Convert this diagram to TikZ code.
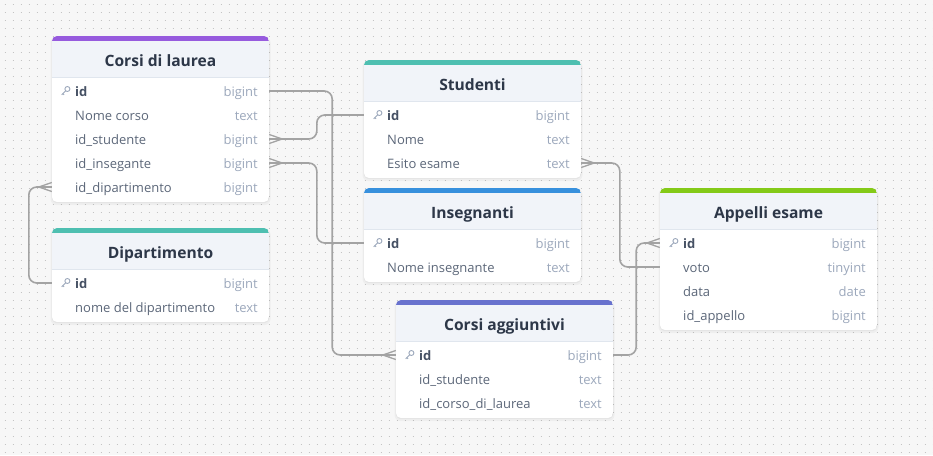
\documentclass[tikz,border=0pt]{standalone}
\usepackage{fontspec}
\setmainfont{Open Sans}
\setsansfont{Open Sans}
\usepackage{tikz}
\usetikzlibrary{positioning, calc}
\usepackage{xcolor}
\definecolor{canvas}{RGB}{247,247,247}
\definecolor{dotgray}{RGB}{196,196,196}
\definecolor{headfill}{RGB}{241,244,249}
\definecolor{sepline}{RGB}{224,230,238}
\definecolor{titleink}{RGB}{45,55,72}
\definecolor{nameink}{RGB}{92,103,121}
\definecolor{keyink}{RGB}{70,81,100}
\definecolor{typeink}{RGB}{156,168,188}
\definecolor{linkgray}{RGB}{163,163,163}
\definecolor{barpurple}{RGB}{151,91,222}
\definecolor{barteal}{RGB}{78,191,177}
\definecolor{barblue}{RGB}{55,144,221}
\definecolor{bargreen}{RGB}{132,202,24}
\definecolor{barindigo}{RGB}{104,114,206}

\tikzset{
  dotrow/.style={dotgray, line width=1pt, dash pattern=on 1pt off 7pt},
  tableshadow/.style={fill=black, opacity=0.035, rounded corners=6pt},
  rowbox/.style={minimum width=217pt, minimum height=24pt, inner sep=0pt},
  tabletitle/.style={text=titleink, inner sep=0pt,
                     font=\bfseries\fontsize{15.6}{18}\selectfont},
  field/.style={text=nameink, inner sep=0pt,
                font=\fontsize{13}{15}\selectfont},
  keyfield/.style={field, text=keyink,
                   font=\bfseries\fontsize{13}{15}\selectfont},
  fieldtype/.style={field, text=typeink},
  keyline/.style={draw=typeink, line width=0.9pt},
  link/.style={draw=linkgray, line width=1.6pt, rounded corners=8pt},
  crowline/.style={draw=linkgray, line width=1.3pt},
  crowright/.pic={\draw[crowline] (0,-4.5) -- (13,0) -- (0,4.5);},
  crowleft/.pic={\draw[crowline] (0,-4.5) -- (-13,0) -- (0,4.5);}
}

% small key in front of a primary key
\newcommand{\keyglyph}[2]{%
  \draw[keyline] (#1+2.4,#2-2) circle (2.5pt);
  \draw[keyline] (#1+0.7,#2-0.3) -- (#1-3.4,#2+3.8);
  \draw[keyline] (#1-2.2,#2+2.6) -- (#1-1,#2+3.8);
}

% #1 name, #2 left, #3 top, #4 bar colour, #5 title, #6 fields
\newcommand{\dbtable}[6]{%
  \foreach \fld/\typ [count=\rownum] in {#6} {\xdef\dbrows{\rownum}}
  \pgfmathsetmacro{\dbright}{#2+217}
  \pgfmathsetmacro{\dbbottom}{#3+46+24*\dbrows}
  \fill[tableshadow] (#2-1.5,#3+0.5) rectangle (\dbright+1.5,\dbbottom+3);
  \fill[tableshadow] (#2-0.5,#3+0.5) rectangle (\dbright+0.5,\dbbottom+1.2);
  \begin{scope}
    \clip[rounded corners=5pt] (#2,#3) rectangle (\dbright,\dbbottom);
    \fill[white] (#2,#3) rectangle (\dbright,\dbbottom);
    \fill[headfill] (#2,#3) rectangle (\dbright,#3+41);
    \fill[#4] (#2,#3) rectangle (\dbright,#3+4.5);
  \end{scope}
  \draw[sepline, line width=1pt] (#2,#3+41) -- (\dbright,#3+41);
  \node[tabletitle, anchor=base] (#1) at (#2+108.5,#3+30) {#5};
  \foreach \fld/\typ [count=\rownum] in {#6} {
    \pgfmathsetmacro{\rowy}{#3+55+24*(\rownum-1)}
    \node[rowbox] (#1-\rownum) at (#2+108.5,\rowy) {};
    \ifnum\rownum=1
      \keyglyph{#2+13}{\rowy}
      \node[keyfield, anchor=base west] at (#2+23,\rowy+5.2) {\fld};
    \else
      \node[field, anchor=base west] at (#2+23,\rowy+5.2) {\fld};
    \fi
    \node[fieldtype, anchor=base east] at (\dbright-11,\rowy+5.2) {\typ};
  }
}

\begin{document}
\begin{tikzpicture}[x=1pt, y=-1pt, font=\sffamily]
  % canvas with dot grid
  \useasboundingbox (0,0) rectangle (933,455);
  \fill[canvas] (0,0) rectangle (933,455);
  \foreach \dy in {4,12,...,452}
    \draw[dotrow] (4.5,\dy) -- (933,\dy);

  % tables
  \dbtable{corsi}{52}{36}{barpurple}{Corsi di laurea}
    {id/bigint, Nome corso/text, id\_studente/bigint,
     id\_insegante/bigint, id\_dipartimento/bigint}
  \dbtable{studenti}{364}{60}{barteal}{Studenti}
    {id/bigint, Nome/text, Esito esame/text}
  \dbtable{insegnanti}{364}{188}{barblue}{Insegnanti}
    {id/bigint, Nome insegnante/text}
  \dbtable{dipartimento}{52}{228}{barteal}{Dipartimento}
    {id/bigint, nome del dipartimento/text}
  \dbtable{appelli}{660}{188}{bargreen}{Appelli esame}
    {id/bigint, voto/tinyint, data/date, id\_appello/bigint}
  \dbtable{aggiuntivi}{396}{300}{barindigo}{Corsi aggiuntivi}
    {id/bigint, id\_studente/text, id\_corso\_di\_laurea/text}

  % relations
  \draw[link] (corsi-1.east) -- ++(63,0) |- (aggiuntivi-1.west);
  \pic at (aggiuntivi-1.west) {crowleft};
  \draw[link] (studenti-1.west) -- ++(-47,0) |- (corsi-3.east);
  \pic at (corsi-3.east) {crowright};
  \draw[link] (insegnanti-1.west) -- ++(-47,0) |- (corsi-4.east);
  \pic at (corsi-4.east) {crowright};
  \draw[link] (dipartimento-1.west) -- ++(-23,0) |- (corsi-5.west);
  \pic at (corsi-5.west) {crowleft};
  \draw[link] (appelli-2.west) -- ++(-40,0) |- (studenti-3.east);
  \pic at (studenti-3.east) {crowright};
  \draw[link] (aggiuntivi-1.east) -- ++(23,0) |- (appelli-1.west);
  \pic at (appelli-1.west) {crowleft};
\end{tikzpicture}
\end{document}
